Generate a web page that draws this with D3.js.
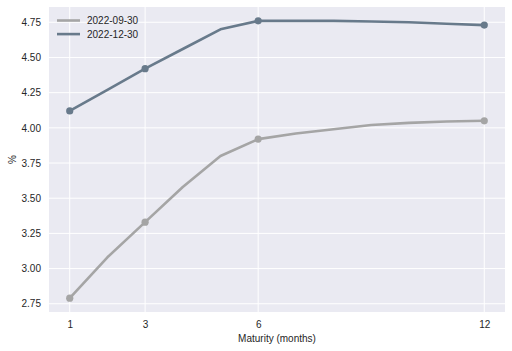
<!DOCTYPE html>
<html>
<head>
<meta charset="utf-8">
<script src="https://cdn.jsdelivr.net/npm/d3@7"></script>
<style>
  body { margin: 0; background: #fff; }
  svg { display: block; font-family: "Liberation Sans", Arial, sans-serif; }
</style>
</head>
<body>
<svg id="chart" width="512" height="351"></svg>
<script>
// Yield curve data, months 1..12
const months = [1, 2, 3, 4, 5, 6, 7, 8, 9, 10, 11, 12];
const sep30 = [2.79, 3.08, 3.33, 3.58, 3.80, 3.92, 3.96, 3.99, 4.02, 4.035, 4.045, 4.05];
const dec30 = [4.12, 4.27, 4.42, 4.56, 4.70, 4.76, 4.76, 4.76, 4.755, 4.75, 4.74, 4.73];
const markerMonths = [1, 3, 6, 12];
const xTicks = [1, 3, 6, 12];
const yTicks = [2.75, 3.00, 3.25, 3.50, 3.75, 4.00, 4.25, 4.50, 4.75];
const seriesNames = ['2022-09-30', '2022-12-30'];
const seriesColors = ['#a5a5a5', '#687a8b'];

const svg = d3.select('#chart');
const margin = { top: 7, right: 7, bottom: 39, left: 49 };
const width = +svg.attr('width');
const height = +svg.attr('height');
const innerW = width - margin.left - margin.right;
const innerH = height - margin.top - margin.bottom;

// matplotlib-like 5% margins
const xPad = (12 - 1) * 0.05;
const allY = sep30.concat(dec30);
const yMin = d3.min(allY), yMax = d3.max(allY);
const yPad = (yMax - yMin) * 0.05;

const x = d3.scaleLinear().domain([1 - xPad, 12 + xPad]).range([0, innerW]);
const y = d3.scaleLinear().domain([yMin - yPad, yMax + yPad]).range([innerH, 0]);

const g = svg.append('g').attr('transform', `translate(${margin.left},${margin.top})`);

g.append('rect').attr('width', innerW).attr('height', innerH).attr('fill', '#eaeaf2');

// grid
g.append('g').selectAll('line').data(yTicks).join('line')
  .attr('x1', 0).attr('x2', innerW)
  .attr('y1', d => y(d)).attr('y2', d => y(d))
  .attr('stroke', '#fff').attr('stroke-width', 1);
g.append('g').selectAll('line').data(xTicks).join('line')
  .attr('y1', 0).attr('y2', innerH)
  .attr('x1', d => x(d)).attr('x2', d => x(d))
  .attr('stroke', '#fff').attr('stroke-width', 1);

// axes (labels only, seaborn style)
const yAxis = g.append('g')
  .call(d3.axisLeft(y).tickValues(yTicks).tickFormat(d3.format('.2f')).tickSize(0).tickPadding(8));
const xAxis = g.append('g').attr('transform', `translate(0,${innerH})`)
  .call(d3.axisBottom(x).tickValues(xTicks).tickSize(0).tickPadding(9));
[yAxis, xAxis].forEach(a => {
  a.select('.domain').remove();
  a.selectAll('text').attr('fill', '#262626').style('font-size', '10px');
});

// axis titles
svg.append('text')
  .attr('x', margin.left + innerW / 2).attr('y', 342)
  .attr('text-anchor', 'middle').attr('fill', '#262626').style('font-size', '10px')
  .text('Maturity (months)');
svg.append('text')
  .attr('transform', `translate(16,${margin.top + innerH / 2}) rotate(-90)`)
  .attr('text-anchor', 'middle').attr('fill', '#262626').style('font-size', '10px')
  .text('%');

// lines
const line = d3.line().x((d, i) => x(months[i])).y(d => y(d));
[sep30, dec30].forEach((vals, k) => {
  g.append('path').datum(vals)
    .attr('d', line)
    .attr('fill', 'none')
    .attr('stroke', seriesColors[k])
    .attr('stroke-width', 2.6)
    .attr('stroke-linejoin', 'round');
  g.append('g').selectAll('circle')
    .data(months.map((m, i) => ({ m, v: vals[i] })).filter(d => markerMonths.includes(d.m)))
    .join('circle')
    .attr('cx', d => x(d.m)).attr('cy', d => y(d.v))
    .attr('r', 3.6).attr('fill', seriesColors[k]);
});

// legend
const legend = g.append('g').attr('transform', 'translate(8,13.5)');
seriesNames.forEach((name, i) => {
  const row = legend.append('g').attr('transform', `translate(0,${i * 13.6})`);
  row.append('line').attr('x1', 0).attr('x2', 23).attr('y1', 0).attr('y2', 0)
    .attr('stroke', seriesColors[i]).attr('stroke-width', 2.6);
  row.append('text').attr('x', 30).attr('y', 0).attr('dy', '0.35em')
    .attr('fill', '#262626').style('font-size', '10px').text(name);
});
</script>
</body>
</html>
